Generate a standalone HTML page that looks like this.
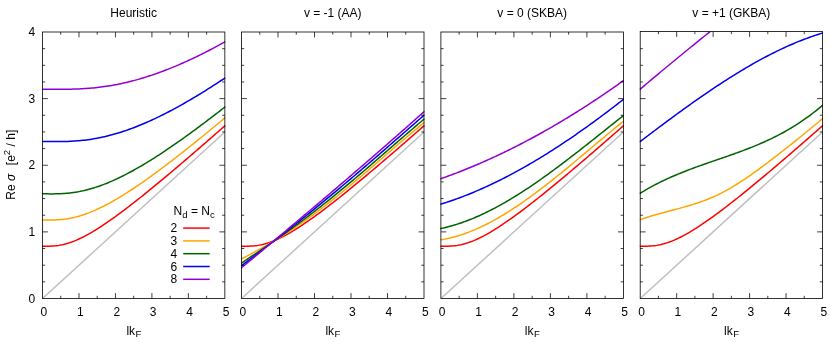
<!DOCTYPE html><html><head><meta charset="utf-8"><title>chart</title><style>html,body{margin:0;padding:0;background:#fff}svg{display:block}text{font-family:"Liberation Sans",sans-serif;fill:#000}svg{will-change:transform}</style></head><body>
<svg width="830" height="342" viewBox="0 0 830 342">
<rect width="830" height="342" fill="#fff"/>
<defs>
<clipPath id="c0"><rect x="41.70" y="32.00" width="183.95" height="266.50"/></clipPath>
<clipPath id="c1"><rect x="240.70" y="32.00" width="184.10" height="266.50"/></clipPath>
<clipPath id="c2"><rect x="440.10" y="32.00" width="184.10" height="266.50"/></clipPath>
<clipPath id="c3"><rect x="639.40" y="31.50" width="183.90" height="267.00"/></clipPath>
</defs>
<g clip-path="url(#c0)" fill="none" stroke-width="1.50" stroke-linejoin="round" stroke-linecap="round">
<path d="M42.50 298.50 L224.85 131.94" stroke="#c0c0c0"/>
<path d="M42.50 246.17 L44.32 246.18 L46.15 246.19 L47.97 246.19 L49.79 246.17 L51.62 246.10 L53.44 246.00 L55.26 245.85 L57.09 245.64 L58.91 245.38 L60.73 245.06 L62.56 244.69 L64.38 244.26 L66.21 243.78 L68.03 243.24 L69.85 242.65 L71.68 242.02 L73.50 241.33 L75.32 240.60 L77.15 239.82 L78.97 239.00 L80.79 238.15 L82.62 237.25 L84.44 236.32 L86.26 235.36 L88.09 234.36 L89.91 233.34 L91.73 232.28 L93.56 231.20 L95.38 230.09 L97.20 228.96 L99.03 227.80 L100.85 226.63 L102.68 225.43 L104.50 224.21 L106.32 222.98 L108.15 221.73 L109.97 220.46 L111.79 219.17 L113.62 217.87 L115.44 216.56 L117.26 215.23 L119.09 213.89 L120.91 212.54 L122.73 211.18 L124.56 209.80 L126.38 208.42 L128.20 207.02 L130.03 205.62 L131.85 204.21 L133.68 202.78 L135.50 201.35 L137.32 199.92 L139.15 198.47 L140.97 197.02 L142.79 195.56 L144.62 194.09 L146.44 192.62 L148.26 191.14 L150.09 189.66 L151.91 188.17 L153.73 186.68 L155.56 185.18 L157.38 183.67 L159.20 182.16 L161.03 180.65 L162.85 179.13 L164.67 177.61 L166.50 176.08 L168.32 174.56 L170.15 173.02 L171.97 171.49 L173.79 169.95 L175.62 168.40 L177.44 166.86 L179.26 165.31 L181.09 163.75 L182.91 162.20 L184.73 160.64 L186.56 159.08 L188.38 157.52 L190.20 155.95 L192.03 154.38 L193.85 152.81 L195.67 151.24 L197.50 149.66 L199.32 148.09 L201.14 146.51 L202.97 144.93 L204.79 143.35 L206.61 141.76 L208.44 140.17 L210.26 138.59 L212.09 137.00 L213.91 135.41 L215.73 133.81 L217.56 132.22 L219.38 130.62 L221.20 129.03 L223.03 127.43 L224.85 125.83" stroke="#ff0000"/>
<path d="M42.50 220.01 L44.32 220.02 L46.15 220.03 L47.97 220.04 L49.79 220.04 L51.62 220.03 L53.44 220.00 L55.26 219.94 L57.09 219.86 L58.91 219.75 L60.73 219.60 L62.56 219.42 L64.38 219.21 L66.21 218.96 L68.03 218.67 L69.85 218.34 L71.68 217.98 L73.50 217.58 L75.32 217.14 L77.15 216.67 L78.97 216.16 L80.79 215.61 L82.62 215.03 L84.44 214.42 L86.26 213.77 L88.09 213.10 L89.91 212.39 L91.73 211.65 L93.56 210.88 L95.38 210.08 L97.20 209.26 L99.03 208.41 L100.85 207.53 L102.68 206.63 L104.50 205.71 L106.32 204.76 L108.15 203.79 L109.97 202.80 L111.79 201.79 L113.62 200.75 L115.44 199.70 L117.26 198.64 L119.09 197.55 L120.91 196.44 L122.73 195.32 L124.56 194.19 L126.38 193.04 L128.20 191.87 L130.03 190.69 L131.85 189.50 L133.68 188.29 L135.50 187.07 L137.32 185.84 L139.15 184.59 L140.97 183.34 L142.79 182.07 L144.62 180.80 L146.44 179.51 L148.26 178.21 L150.09 176.90 L151.91 175.59 L153.73 174.26 L155.56 172.93 L157.38 171.59 L159.20 170.24 L161.03 168.88 L162.85 167.51 L164.67 166.14 L166.50 164.76 L168.32 163.38 L170.15 161.98 L171.97 160.58 L173.79 159.18 L175.62 157.77 L177.44 156.35 L179.26 154.93 L181.09 153.50 L182.91 152.06 L184.73 150.62 L186.56 149.18 L188.38 147.73 L190.20 146.28 L192.03 144.82 L193.85 143.36 L195.67 141.89 L197.50 140.42 L199.32 138.94 L201.14 137.46 L202.97 135.98 L204.79 134.50 L206.61 133.01 L208.44 131.51 L210.26 130.02 L212.09 128.51 L213.91 127.01 L215.73 125.50 L217.56 124.00 L219.38 122.48 L221.20 120.97 L223.03 119.45 L224.85 117.93" stroke="#ffa500"/>
<path d="M42.50 193.85 L44.32 193.85 L46.15 193.86 L47.97 193.87 L49.79 193.89 L51.62 193.89 L53.44 193.88 L55.26 193.87 L57.09 193.83 L58.91 193.78 L60.73 193.71 L62.56 193.61 L64.38 193.50 L66.21 193.36 L68.03 193.19 L69.85 193.00 L71.68 192.78 L73.50 192.53 L75.32 192.26 L77.15 191.96 L78.97 191.63 L80.79 191.27 L82.62 190.88 L84.44 190.47 L86.26 190.02 L88.09 189.56 L89.91 189.06 L91.73 188.54 L93.56 187.99 L95.38 187.41 L97.20 186.81 L99.03 186.18 L100.85 185.53 L102.68 184.86 L104.50 184.16 L106.32 183.44 L108.15 182.70 L109.97 181.93 L111.79 181.14 L113.62 180.34 L115.44 179.51 L117.26 178.66 L119.09 177.80 L120.91 176.91 L122.73 176.01 L124.56 175.08 L126.38 174.15 L128.20 173.19 L130.03 172.22 L131.85 171.23 L133.68 170.23 L135.50 169.21 L137.32 168.17 L139.15 167.12 L140.97 166.06 L142.79 164.99 L144.62 163.90 L146.44 162.80 L148.26 161.68 L150.09 160.56 L151.91 159.42 L153.73 158.27 L155.56 157.11 L157.38 155.94 L159.20 154.76 L161.03 153.56 L162.85 152.36 L164.67 151.15 L166.50 149.93 L168.32 148.70 L170.15 147.46 L171.97 146.21 L173.79 144.95 L175.62 143.69 L177.44 142.41 L179.26 141.13 L181.09 139.84 L182.91 138.55 L184.73 137.25 L186.56 135.94 L188.38 134.62 L190.20 133.29 L192.03 131.96 L193.85 130.63 L195.67 129.28 L197.50 127.93 L199.32 126.58 L201.14 125.22 L202.97 123.85 L204.79 122.48 L206.61 121.10 L208.44 119.72 L210.26 118.33 L212.09 116.94 L213.91 115.55 L215.73 114.14 L217.56 112.74 L219.38 111.33 L221.20 109.91 L223.03 108.49 L224.85 107.07" stroke="#006400"/>
<path d="M42.50 141.52 L44.32 141.52 L46.15 141.53 L47.97 141.54 L49.79 141.56 L51.62 141.57 L53.44 141.58 L55.26 141.58 L57.09 141.58 L58.91 141.58 L60.73 141.56 L62.56 141.53 L64.38 141.50 L66.21 141.45 L68.03 141.39 L69.85 141.31 L71.68 141.22 L73.50 141.12 L75.32 141.00 L77.15 140.86 L78.97 140.71 L80.79 140.54 L82.62 140.35 L84.44 140.14 L86.26 139.92 L88.09 139.68 L89.91 139.42 L91.73 139.14 L93.56 138.84 L95.38 138.52 L97.20 138.19 L99.03 137.84 L100.85 137.46 L102.68 137.07 L104.50 136.66 L106.32 136.23 L108.15 135.79 L109.97 135.32 L111.79 134.84 L113.62 134.34 L115.44 133.82 L117.26 133.28 L119.09 132.73 L120.91 132.16 L122.73 131.57 L124.56 130.96 L126.38 130.34 L128.20 129.70 L130.03 129.05 L131.85 128.38 L133.68 127.69 L135.50 126.99 L137.32 126.27 L139.15 125.54 L140.97 124.79 L142.79 124.03 L144.62 123.26 L146.44 122.47 L148.26 121.66 L150.09 120.85 L151.91 120.01 L153.73 119.17 L155.56 118.31 L157.38 117.44 L159.20 116.56 L161.03 115.67 L162.85 114.76 L164.67 113.84 L166.50 112.91 L168.32 111.97 L170.15 111.02 L171.97 110.05 L173.79 109.08 L175.62 108.09 L177.44 107.09 L179.26 106.09 L181.09 105.07 L182.91 104.04 L184.73 103.01 L186.56 101.96 L188.38 100.91 L190.20 99.84 L192.03 98.77 L193.85 97.69 L195.67 96.60 L197.50 95.50 L199.32 94.39 L201.14 93.27 L202.97 92.15 L204.79 91.02 L206.61 89.88 L208.44 88.73 L210.26 87.58 L212.09 86.41 L213.91 85.24 L215.73 84.07 L217.56 82.88 L219.38 81.69 L221.20 80.50 L223.03 79.29 L224.85 78.08" stroke="#0000ee"/>
<path d="M42.50 89.19 L44.32 89.19 L46.15 89.20 L47.97 89.21 L49.79 89.22 L51.62 89.24 L53.44 89.25 L55.26 89.26 L57.09 89.27 L58.91 89.28 L60.73 89.28 L62.56 89.28 L64.38 89.27 L66.21 89.25 L68.03 89.23 L69.85 89.20 L71.68 89.16 L73.50 89.12 L75.32 89.06 L77.15 88.99 L78.97 88.92 L80.79 88.83 L82.62 88.73 L84.44 88.62 L86.26 88.50 L88.09 88.36 L89.91 88.21 L91.73 88.06 L93.56 87.88 L95.38 87.70 L97.20 87.50 L99.03 87.29 L100.85 87.06 L102.68 86.82 L104.50 86.57 L106.32 86.30 L108.15 86.02 L109.97 85.72 L111.79 85.41 L113.62 85.09 L115.44 84.75 L117.26 84.40 L119.09 84.04 L120.91 83.66 L122.73 83.26 L124.56 82.85 L126.38 82.43 L128.20 82.00 L130.03 81.55 L131.85 81.09 L133.68 80.61 L135.50 80.12 L137.32 79.62 L139.15 79.10 L140.97 78.57 L142.79 78.03 L144.62 77.47 L146.44 76.90 L148.26 76.32 L150.09 75.72 L151.91 75.12 L153.73 74.50 L155.56 73.87 L157.38 73.22 L159.20 72.56 L161.03 71.90 L162.85 71.22 L164.67 70.52 L166.50 69.82 L168.32 69.10 L170.15 68.38 L171.97 67.64 L173.79 66.89 L175.62 66.13 L177.44 65.36 L179.26 64.58 L181.09 63.79 L182.91 62.99 L184.73 62.17 L186.56 61.35 L188.38 60.52 L190.20 59.68 L192.03 58.82 L193.85 57.96 L195.67 57.09 L197.50 56.21 L199.32 55.32 L201.14 54.42 L202.97 53.51 L204.79 52.59 L206.61 51.67 L208.44 50.73 L210.26 49.79 L212.09 48.84 L213.91 47.88 L215.73 46.91 L217.56 45.93 L219.38 44.95 L221.20 43.96 L223.03 42.96 L224.85 41.95" stroke="#9400d3"/>
</g>
<path d="M60.73 298.50 v-2.70 M60.73 32.00 v2.70 M78.97 298.50 v-5.40 M78.97 32.00 v5.40 M97.20 298.50 v-2.70 M97.20 32.00 v2.70 M115.44 298.50 v-5.40 M115.44 32.00 v5.40 M133.68 298.50 v-2.70 M133.68 32.00 v2.70 M151.91 298.50 v-5.40 M151.91 32.00 v5.40 M170.14 298.50 v-2.70 M170.14 32.00 v2.70 M188.38 298.50 v-5.40 M188.38 32.00 v5.40 M206.62 298.50 v-2.70 M206.62 32.00 v2.70 M42.50 281.84 h2.70 M224.85 281.84 h-2.70 M42.50 265.19 h2.70 M224.85 265.19 h-2.70 M42.50 248.53 h2.70 M224.85 248.53 h-2.70 M42.50 231.88 h5.40 M224.85 231.88 h-5.40 M42.50 215.22 h2.70 M224.85 215.22 h-2.70 M42.50 198.56 h2.70 M224.85 198.56 h-2.70 M42.50 181.91 h2.70 M224.85 181.91 h-2.70 M42.50 165.25 h5.40 M224.85 165.25 h-5.40 M42.50 148.59 h2.70 M224.85 148.59 h-2.70 M42.50 131.94 h2.70 M224.85 131.94 h-2.70 M42.50 115.28 h2.70 M224.85 115.28 h-2.70 M42.50 98.62 h5.40 M224.85 98.62 h-5.40 M42.50 81.97 h2.70 M224.85 81.97 h-2.70 M42.50 65.31 h2.70 M224.85 65.31 h-2.70 M42.50 48.66 h2.70 M224.85 48.66 h-2.70" stroke="#000" stroke-width="0.75" fill="none"/>
<rect x="42.50" y="32.00" width="182.35" height="266.50" fill="none" stroke="#000" stroke-width="0.8"/>
<text x="43.80" y="315.8" font-size="12" text-anchor="middle">0</text>
<text x="80.27" y="315.8" font-size="12" text-anchor="middle">1</text>
<text x="116.74" y="315.8" font-size="12" text-anchor="middle">2</text>
<text x="153.21" y="315.8" font-size="12" text-anchor="middle">3</text>
<text x="189.68" y="315.8" font-size="12" text-anchor="middle">4</text>
<text x="226.15" y="315.8" font-size="12" text-anchor="middle">5</text>
<text x="133.68" y="16.6" font-size="12" text-anchor="middle">Heuristic</text>
<text x="126.38" y="334.5" font-size="12">lk<tspan font-size="9.6" dy="2.5" dx="0.5">F</tspan></text>
<g clip-path="url(#c1)" fill="none" stroke-width="1.50" stroke-linejoin="round" stroke-linecap="round">
<path d="M241.50 298.50 L424.00 131.94" stroke="#c0c0c0"/>
<path d="M241.50 246.17 L243.32 246.18 L245.15 246.19 L246.97 246.19 L248.80 246.17 L250.62 246.10 L252.45 246.00 L254.28 245.85 L256.10 245.64 L257.93 245.38 L259.75 245.06 L261.57 244.69 L263.40 244.26 L265.23 243.78 L267.05 243.24 L268.88 242.65 L270.70 242.02 L272.52 241.33 L274.35 240.60 L276.18 239.82 L278.00 239.00 L279.82 238.15 L281.65 237.25 L283.48 236.32 L285.30 235.36 L287.12 234.36 L288.95 233.34 L290.77 232.28 L292.60 231.20 L294.43 230.09 L296.25 228.96 L298.07 227.80 L299.90 226.63 L301.73 225.43 L303.55 224.21 L305.38 222.98 L307.20 221.73 L309.02 220.46 L310.85 219.17 L312.68 217.87 L314.50 216.56 L316.33 215.23 L318.15 213.89 L319.98 212.54 L321.80 211.18 L323.62 209.80 L325.45 208.42 L327.27 207.02 L329.10 205.62 L330.93 204.21 L332.75 202.78 L334.58 201.35 L336.40 199.92 L338.23 198.47 L340.05 197.02 L341.88 195.56 L343.70 194.09 L345.52 192.62 L347.35 191.14 L349.18 189.66 L351.00 188.17 L352.82 186.68 L354.65 185.18 L356.48 183.67 L358.30 182.16 L360.12 180.65 L361.95 179.13 L363.77 177.61 L365.60 176.08 L367.43 174.56 L369.25 173.02 L371.07 171.49 L372.90 169.95 L374.73 168.40 L376.55 166.86 L378.38 165.31 L380.20 163.75 L382.02 162.20 L383.85 160.64 L385.68 159.08 L387.50 157.52 L389.32 155.95 L391.15 154.38 L392.98 152.81 L394.80 151.24 L396.62 149.66 L398.45 148.09 L400.28 146.51 L402.10 144.93 L403.93 143.35 L405.75 141.76 L407.57 140.17 L409.40 138.59 L411.23 137.00 L413.05 135.41 L414.88 133.81 L416.70 132.22 L418.53 130.62 L420.35 129.03 L422.18 127.43 L424.00 125.83" stroke="#ff0000"/>
<path d="M241.50 258.98 L243.32 258.03 L245.15 257.08 L246.97 256.13 L248.80 255.16 L250.62 254.19 L252.45 253.20 L254.28 252.21 L256.10 251.21 L257.93 250.21 L259.75 249.19 L261.57 248.16 L263.40 247.13 L265.23 246.09 L267.05 245.03 L268.88 243.97 L270.70 242.89 L272.52 241.81 L274.35 240.71 L276.18 239.61 L278.00 238.49 L279.82 237.36 L281.65 236.22 L283.48 235.07 L285.30 233.91 L287.12 232.74 L288.95 231.55 L290.77 230.36 L292.60 229.15 L294.43 227.93 L296.25 226.69 L298.07 225.44 L299.90 224.18 L301.73 222.91 L303.55 221.63 L305.38 220.33 L307.20 219.03 L309.02 217.71 L310.85 216.38 L312.68 215.04 L314.50 213.69 L316.33 212.33 L318.15 210.95 L319.98 209.57 L321.80 208.18 L323.62 206.78 L325.45 205.37 L327.27 203.95 L329.10 202.52 L330.93 201.08 L332.75 199.64 L334.58 198.18 L336.40 196.72 L338.23 195.25 L340.05 193.77 L341.88 192.29 L343.70 190.79 L345.52 189.29 L347.35 187.79 L349.18 186.27 L351.00 184.75 L352.82 183.23 L354.65 181.70 L356.48 180.16 L358.30 178.62 L360.12 177.07 L361.95 175.51 L363.77 173.96 L365.60 172.39 L367.43 170.83 L369.25 169.26 L371.07 167.68 L372.90 166.11 L374.73 164.53 L376.55 162.95 L378.38 161.37 L380.20 159.79 L382.02 158.21 L383.85 156.63 L385.68 155.05 L387.50 153.47 L389.32 151.89 L391.15 150.31 L392.98 148.74 L394.80 147.16 L396.62 145.59 L398.45 144.03 L400.28 142.47 L402.10 140.91 L403.93 139.35 L405.75 137.80 L407.57 136.26 L409.40 134.72 L411.23 133.19 L413.05 131.67 L414.88 130.15 L416.70 128.64 L418.53 127.14 L420.35 125.65 L422.18 124.16 L424.00 122.69" stroke="#ffa500"/>
<path d="M241.50 263.06 L243.32 261.85 L245.15 260.63 L246.97 259.41 L248.80 258.19 L250.62 256.97 L252.45 255.74 L254.28 254.52 L256.10 253.29 L257.93 252.06 L259.75 250.83 L261.57 249.59 L263.40 248.35 L265.23 247.10 L267.05 245.86 L268.88 244.60 L270.70 243.35 L272.52 242.09 L274.35 240.82 L276.18 239.55 L278.00 238.27 L279.82 236.99 L281.65 235.70 L283.48 234.41 L285.30 233.11 L287.12 231.80 L288.95 230.49 L290.77 229.17 L292.60 227.84 L294.43 226.51 L296.25 225.17 L298.07 223.82 L299.90 222.46 L301.73 221.10 L303.55 219.73 L305.38 218.35 L307.20 216.96 L309.02 215.57 L310.85 214.17 L312.68 212.77 L314.50 211.36 L316.33 209.94 L318.15 208.51 L319.98 207.08 L321.80 205.65 L323.62 204.20 L325.45 202.75 L327.27 201.29 L329.10 199.83 L330.93 198.36 L332.75 196.89 L334.58 195.41 L336.40 193.93 L338.23 192.43 L340.05 190.94 L341.88 189.44 L343.70 187.93 L345.52 186.41 L347.35 184.90 L349.18 183.37 L351.00 181.84 L352.82 180.31 L354.65 178.77 L356.48 177.23 L358.30 175.68 L360.12 174.13 L361.95 172.57 L363.77 171.01 L365.60 169.45 L367.43 167.88 L369.25 166.31 L371.07 164.74 L372.90 163.16 L374.73 161.58 L376.55 160.00 L378.38 158.42 L380.20 156.84 L382.02 155.26 L383.85 153.67 L385.68 152.09 L387.50 150.50 L389.32 148.92 L391.15 147.33 L392.98 145.75 L394.80 144.16 L396.62 142.58 L398.45 141.00 L400.28 139.42 L402.10 137.85 L403.93 136.27 L405.75 134.70 L407.57 133.13 L409.40 131.57 L411.23 130.00 L413.05 128.45 L414.88 126.89 L416.70 125.34 L418.53 123.80 L420.35 122.26 L422.18 120.72 L424.00 119.19" stroke="#006400"/>
<path d="M241.50 265.65 L243.32 264.29 L245.15 262.93 L246.97 261.56 L248.80 260.20 L250.62 258.82 L252.45 257.45 L254.28 256.07 L256.10 254.69 L257.93 253.31 L259.75 251.92 L261.57 250.53 L263.40 249.14 L265.23 247.74 L267.05 246.34 L268.88 244.94 L270.70 243.53 L272.52 242.13 L274.35 240.71 L276.18 239.30 L278.00 237.88 L279.82 236.46 L281.65 235.04 L283.48 233.61 L285.30 232.18 L287.12 230.75 L288.95 229.31 L290.77 227.87 L292.60 226.43 L294.43 224.98 L296.25 223.53 L298.07 222.08 L299.90 220.63 L301.73 219.17 L303.55 217.71 L305.38 216.24 L307.20 214.78 L309.02 213.30 L310.85 211.83 L312.68 210.35 L314.50 208.87 L316.33 207.39 L318.15 205.90 L319.98 204.41 L321.80 202.92 L323.62 201.42 L325.45 199.92 L327.27 198.42 L329.10 196.92 L330.93 195.41 L332.75 193.89 L334.58 192.38 L336.40 190.86 L338.23 189.34 L340.05 187.81 L341.88 186.28 L343.70 184.75 L345.52 183.22 L347.35 181.68 L349.18 180.14 L351.00 178.59 L352.82 177.04 L354.65 175.49 L356.48 173.94 L358.30 172.38 L360.12 170.82 L361.95 169.26 L363.77 167.69 L365.60 166.12 L367.43 164.55 L369.25 162.98 L371.07 161.40 L372.90 159.83 L374.73 158.25 L376.55 156.67 L378.38 155.08 L380.20 153.50 L382.02 151.91 L383.85 150.33 L385.68 148.74 L387.50 147.15 L389.32 145.56 L391.15 143.96 L392.98 142.37 L394.80 140.78 L396.62 139.18 L398.45 137.59 L400.28 135.99 L402.10 134.40 L403.93 132.80 L405.75 131.21 L407.57 129.61 L409.40 128.02 L411.23 126.42 L413.05 124.83 L414.88 123.23 L416.70 121.64 L418.53 120.05 L420.35 118.46 L422.18 116.87 L424.00 115.28" stroke="#0000ee"/>
<path d="M241.50 267.75 L243.32 266.24 L245.15 264.72 L246.97 263.20 L248.80 261.69 L250.62 260.17 L252.45 258.65 L254.28 257.13 L256.10 255.61 L257.93 254.10 L259.75 252.58 L261.57 251.06 L263.40 249.53 L265.23 248.01 L267.05 246.49 L268.88 244.97 L270.70 243.44 L272.52 241.92 L274.35 240.40 L276.18 238.87 L278.00 237.34 L279.82 235.82 L281.65 234.29 L283.48 232.76 L285.30 231.23 L287.12 229.70 L288.95 228.17 L290.77 226.64 L292.60 225.11 L294.43 223.57 L296.25 222.04 L298.07 220.51 L299.90 218.97 L301.73 217.43 L303.55 215.90 L305.38 214.36 L307.20 212.82 L309.02 211.28 L310.85 209.74 L312.68 208.20 L314.50 206.65 L316.33 205.11 L318.15 203.56 L319.98 202.02 L321.80 200.47 L323.62 198.92 L325.45 197.37 L327.27 195.82 L329.10 194.27 L330.93 192.72 L332.75 191.17 L334.58 189.61 L336.40 188.06 L338.23 186.50 L340.05 184.94 L341.88 183.38 L343.70 181.82 L345.52 180.26 L347.35 178.70 L349.18 177.13 L351.00 175.57 L352.82 174.00 L354.65 172.43 L356.48 170.86 L358.30 169.29 L360.12 167.72 L361.95 166.15 L363.77 164.57 L365.60 163.00 L367.43 161.42 L369.25 159.84 L371.07 158.26 L372.90 156.68 L374.73 155.10 L376.55 153.51 L378.38 151.93 L380.20 150.34 L382.02 148.75 L383.85 147.16 L385.68 145.57 L387.50 143.98 L389.32 142.38 L391.15 140.78 L392.98 139.19 L394.80 137.59 L396.62 135.99 L398.45 134.38 L400.28 132.78 L402.10 131.17 L403.93 129.57 L405.75 127.96 L407.57 126.35 L409.40 124.73 L411.23 123.12 L413.05 121.50 L414.88 119.88 L416.70 118.26 L418.53 116.64 L420.35 115.02 L422.18 113.40 L424.00 111.77" stroke="#9400d3"/>
</g>
<path d="M259.75 298.50 v-2.70 M259.75 32.00 v2.70 M278.00 298.50 v-5.40 M278.00 32.00 v5.40 M296.25 298.50 v-2.70 M296.25 32.00 v2.70 M314.50 298.50 v-5.40 M314.50 32.00 v5.40 M332.75 298.50 v-2.70 M332.75 32.00 v2.70 M351.00 298.50 v-5.40 M351.00 32.00 v5.40 M369.25 298.50 v-2.70 M369.25 32.00 v2.70 M387.50 298.50 v-5.40 M387.50 32.00 v5.40 M405.75 298.50 v-2.70 M405.75 32.00 v2.70 M241.50 281.84 h2.70 M424.00 281.84 h-2.70 M241.50 265.19 h2.70 M424.00 265.19 h-2.70 M241.50 248.53 h2.70 M424.00 248.53 h-2.70 M241.50 231.88 h5.40 M424.00 231.88 h-5.40 M241.50 215.22 h2.70 M424.00 215.22 h-2.70 M241.50 198.56 h2.70 M424.00 198.56 h-2.70 M241.50 181.91 h2.70 M424.00 181.91 h-2.70 M241.50 165.25 h5.40 M424.00 165.25 h-5.40 M241.50 148.59 h2.70 M424.00 148.59 h-2.70 M241.50 131.94 h2.70 M424.00 131.94 h-2.70 M241.50 115.28 h2.70 M424.00 115.28 h-2.70 M241.50 98.62 h5.40 M424.00 98.62 h-5.40 M241.50 81.97 h2.70 M424.00 81.97 h-2.70 M241.50 65.31 h2.70 M424.00 65.31 h-2.70 M241.50 48.66 h2.70 M424.00 48.66 h-2.70" stroke="#000" stroke-width="0.75" fill="none"/>
<rect x="241.50" y="32.00" width="182.50" height="266.50" fill="none" stroke="#000" stroke-width="0.8"/>
<text x="242.80" y="315.8" font-size="12" text-anchor="middle">0</text>
<text x="279.30" y="315.8" font-size="12" text-anchor="middle">1</text>
<text x="315.80" y="315.8" font-size="12" text-anchor="middle">2</text>
<text x="352.30" y="315.8" font-size="12" text-anchor="middle">3</text>
<text x="388.80" y="315.8" font-size="12" text-anchor="middle">4</text>
<text x="425.30" y="315.8" font-size="12" text-anchor="middle">5</text>
<text x="332.75" y="16.6" font-size="12" text-anchor="middle">v = -1 (AA)</text>
<text x="325.45" y="334.5" font-size="12">lk<tspan font-size="9.6" dy="2.5" dx="0.5">F</tspan></text>
<g clip-path="url(#c2)" fill="none" stroke-width="1.50" stroke-linejoin="round" stroke-linecap="round">
<path d="M440.90 298.50 L623.40 131.94" stroke="#c0c0c0"/>
<path d="M440.90 246.17 L442.72 246.18 L444.55 246.19 L446.38 246.19 L448.20 246.17 L450.02 246.10 L451.85 246.00 L453.67 245.85 L455.50 245.64 L457.32 245.38 L459.15 245.06 L460.97 244.69 L462.80 244.26 L464.62 243.78 L466.45 243.24 L468.27 242.65 L470.10 242.02 L471.92 241.33 L473.75 240.60 L475.57 239.82 L477.40 239.00 L479.22 238.15 L481.05 237.25 L482.88 236.32 L484.70 235.36 L486.52 234.36 L488.35 233.34 L490.17 232.28 L492.00 231.20 L493.82 230.09 L495.65 228.96 L497.47 227.80 L499.30 226.63 L501.12 225.43 L502.95 224.21 L504.77 222.98 L506.60 221.73 L508.42 220.46 L510.25 219.17 L512.08 217.87 L513.90 216.56 L515.73 215.23 L517.55 213.89 L519.38 212.54 L521.20 211.18 L523.02 209.80 L524.85 208.42 L526.67 207.02 L528.50 205.62 L530.33 204.21 L532.15 202.78 L533.98 201.35 L535.80 199.92 L537.62 198.47 L539.45 197.02 L541.27 195.56 L543.10 194.09 L544.92 192.62 L546.75 191.14 L548.57 189.66 L550.40 188.17 L552.23 186.68 L554.05 185.18 L555.88 183.67 L557.70 182.16 L559.52 180.65 L561.35 179.13 L563.17 177.61 L565.00 176.08 L566.82 174.56 L568.65 173.02 L570.47 171.49 L572.30 169.95 L574.12 168.40 L575.95 166.86 L577.77 165.31 L579.60 163.75 L581.42 162.20 L583.25 160.64 L585.08 159.08 L586.90 157.52 L588.72 155.95 L590.55 154.38 L592.38 152.81 L594.20 151.24 L596.02 149.66 L597.85 148.09 L599.67 146.51 L601.50 144.93 L603.33 143.35 L605.15 141.76 L606.97 140.17 L608.80 138.59 L610.62 137.00 L612.45 135.41 L614.27 133.81 L616.10 132.22 L617.92 130.62 L619.75 129.03 L621.58 127.43 L623.40 125.83" stroke="#ff0000"/>
<path d="M440.90 239.74 L442.72 239.45 L444.55 239.12 L446.38 238.77 L448.20 238.38 L450.02 237.97 L451.85 237.53 L453.67 237.06 L455.50 236.56 L457.32 236.04 L459.15 235.49 L460.97 234.91 L462.80 234.30 L464.62 233.67 L466.45 233.02 L468.27 232.34 L470.10 231.63 L471.92 230.90 L473.75 230.15 L475.57 229.37 L477.40 228.57 L479.22 227.74 L481.05 226.90 L482.88 226.03 L484.70 225.14 L486.52 224.22 L488.35 223.29 L490.17 222.34 L492.00 221.36 L493.82 220.37 L495.65 219.35 L497.47 218.32 L499.30 217.26 L501.12 216.19 L502.95 215.10 L504.77 214.00 L506.60 212.87 L508.42 211.73 L510.25 210.57 L512.08 209.39 L513.90 208.20 L515.73 207.00 L517.55 205.77 L519.38 204.54 L521.20 203.28 L523.02 202.02 L524.85 200.74 L526.67 199.45 L528.50 198.14 L530.33 196.82 L532.15 195.49 L533.98 194.14 L535.80 192.79 L537.62 191.42 L539.45 190.05 L541.27 188.66 L543.10 187.26 L544.92 185.85 L546.75 184.43 L548.57 183.01 L550.40 181.57 L552.23 180.13 L554.05 178.68 L555.88 177.22 L557.70 175.75 L559.52 174.28 L561.35 172.80 L563.17 171.31 L565.00 169.82 L566.82 168.33 L568.65 166.82 L570.47 165.32 L572.30 163.81 L574.12 162.29 L575.95 160.77 L577.77 159.25 L579.60 157.72 L581.42 156.20 L583.25 154.67 L585.08 153.14 L586.90 151.60 L588.72 150.07 L590.55 148.54 L592.38 147.00 L594.20 145.47 L596.02 143.93 L597.85 142.40 L599.67 140.87 L601.50 139.34 L603.33 137.81 L605.15 136.28 L606.97 134.76 L608.80 133.24 L610.62 131.72 L612.45 130.21 L614.27 128.70 L616.10 127.19 L617.92 125.69 L619.75 124.19 L621.58 122.70 L623.40 121.22" stroke="#ffa500"/>
<path d="M440.90 228.51 L442.72 228.12 L444.55 227.70 L446.38 227.26 L448.20 226.80 L450.02 226.31 L451.85 225.81 L453.67 225.28 L455.50 224.73 L457.32 224.15 L459.15 223.56 L460.97 222.94 L462.80 222.31 L464.62 221.65 L466.45 220.98 L468.27 220.28 L470.10 219.56 L471.92 218.83 L473.75 218.07 L475.57 217.30 L477.40 216.50 L479.22 215.69 L481.05 214.86 L482.88 214.01 L484.70 213.15 L486.52 212.27 L488.35 211.37 L490.17 210.45 L492.00 209.52 L493.82 208.57 L495.65 207.60 L497.47 206.62 L499.30 205.62 L501.12 204.61 L502.95 203.58 L504.77 202.54 L506.60 201.48 L508.42 200.41 L510.25 199.33 L512.08 198.23 L513.90 197.11 L515.73 195.99 L517.55 194.85 L519.38 193.70 L521.20 192.53 L523.02 191.36 L524.85 190.17 L526.67 188.97 L528.50 187.76 L530.33 186.54 L532.15 185.31 L533.98 184.06 L535.80 182.81 L537.62 181.55 L539.45 180.27 L541.27 178.99 L543.10 177.70 L544.92 176.39 L546.75 175.08 L548.57 173.77 L550.40 172.44 L552.23 171.10 L554.05 169.76 L555.88 168.41 L557.70 167.05 L559.52 165.69 L561.35 164.32 L563.17 162.94 L565.00 161.56 L566.82 160.17 L568.65 158.77 L570.47 157.37 L572.30 155.97 L574.12 154.56 L575.95 153.14 L577.77 151.73 L579.60 150.30 L581.42 148.88 L583.25 147.45 L585.08 146.01 L586.90 144.58 L588.72 143.14 L590.55 141.69 L592.38 140.25 L594.20 138.80 L596.02 137.36 L597.85 135.91 L599.67 134.46 L601.50 133.01 L603.33 131.56 L605.15 130.10 L606.97 128.65 L608.80 127.20 L610.62 125.75 L612.45 124.30 L614.27 122.85 L616.10 121.40 L617.92 119.95 L619.75 118.51 L621.58 117.06 L623.40 115.62" stroke="#006400"/>
<path d="M440.90 204.14 L442.72 203.57 L444.55 202.99 L446.38 202.40 L448.20 201.80 L450.02 201.19 L451.85 200.56 L453.67 199.93 L455.50 199.28 L457.32 198.62 L459.15 197.95 L460.97 197.27 L462.80 196.58 L464.62 195.87 L466.45 195.16 L468.27 194.43 L470.10 193.70 L471.92 192.95 L473.75 192.19 L475.57 191.42 L477.40 190.64 L479.22 189.85 L481.05 189.05 L482.88 188.24 L484.70 187.42 L486.52 186.59 L488.35 185.75 L490.17 184.90 L492.00 184.03 L493.82 183.16 L495.65 182.28 L497.47 181.39 L499.30 180.49 L501.12 179.57 L502.95 178.65 L504.77 177.72 L506.60 176.78 L508.42 175.83 L510.25 174.87 L512.08 173.90 L513.90 172.92 L515.73 171.93 L517.55 170.94 L519.38 169.93 L521.20 168.92 L523.02 167.89 L524.85 166.86 L526.67 165.81 L528.50 164.76 L530.33 163.70 L532.15 162.63 L533.98 161.56 L535.80 160.47 L537.62 159.37 L539.45 158.27 L541.27 157.16 L543.10 156.04 L544.92 154.91 L546.75 153.77 L548.57 152.63 L550.40 151.47 L552.23 150.31 L554.05 149.14 L555.88 147.97 L557.70 146.78 L559.52 145.59 L561.35 144.39 L563.17 143.18 L565.00 141.96 L566.82 140.74 L568.65 139.51 L570.47 138.27 L572.30 137.02 L574.12 135.77 L575.95 134.51 L577.77 133.24 L579.60 131.97 L581.42 130.69 L583.25 129.40 L585.08 128.10 L586.90 126.80 L588.72 125.49 L590.55 124.17 L592.38 122.85 L594.20 121.52 L596.02 120.18 L597.85 118.84 L599.67 117.49 L601.50 116.14 L603.33 114.77 L605.15 113.41 L606.97 112.03 L608.80 110.65 L610.62 109.27 L612.45 107.87 L614.27 106.47 L616.10 105.07 L617.92 103.66 L619.75 102.24 L621.58 100.82 L623.40 99.40" stroke="#0000ee"/>
<path d="M440.90 178.68 L442.72 178.04 L444.55 177.39 L446.38 176.73 L448.20 176.06 L450.02 175.39 L451.85 174.71 L453.67 174.03 L455.50 173.33 L457.32 172.63 L459.15 171.93 L460.97 171.21 L462.80 170.49 L464.62 169.76 L466.45 169.03 L468.27 168.29 L470.10 167.54 L471.92 166.78 L473.75 166.02 L475.57 165.25 L477.40 164.47 L479.22 163.69 L481.05 162.90 L482.88 162.10 L484.70 161.30 L486.52 160.49 L488.35 159.67 L490.17 158.84 L492.00 158.01 L493.82 157.17 L495.65 156.33 L497.47 155.48 L499.30 154.62 L501.12 153.75 L502.95 152.88 L504.77 152.00 L506.60 151.12 L508.42 150.22 L510.25 149.32 L512.08 148.42 L513.90 147.50 L515.73 146.59 L517.55 145.66 L519.38 144.73 L521.20 143.79 L523.02 142.84 L524.85 141.89 L526.67 140.93 L528.50 139.96 L530.33 138.98 L532.15 138.00 L533.98 137.02 L535.80 136.02 L537.62 135.02 L539.45 134.02 L541.27 133.00 L543.10 131.98 L544.92 130.96 L546.75 129.92 L548.57 128.88 L550.40 127.84 L552.23 126.78 L554.05 125.72 L555.88 124.66 L557.70 123.58 L559.52 122.50 L561.35 121.42 L563.17 120.32 L565.00 119.23 L566.82 118.12 L568.65 117.01 L570.47 115.89 L572.30 114.76 L574.12 113.63 L575.95 112.49 L577.77 111.35 L579.60 110.19 L581.42 109.04 L583.25 107.87 L585.08 106.70 L586.90 105.52 L588.72 104.34 L590.55 103.15 L592.38 101.95 L594.20 100.75 L596.02 99.54 L597.85 98.32 L599.67 97.10 L601.50 95.87 L603.33 94.63 L605.15 93.39 L606.97 92.14 L608.80 90.89 L610.62 89.63 L612.45 88.36 L614.27 87.09 L616.10 85.81 L617.92 84.52 L619.75 83.23 L621.58 81.93 L623.40 80.62" stroke="#9400d3"/>
</g>
<path d="M459.15 298.50 v-2.70 M459.15 32.00 v2.70 M477.40 298.50 v-5.40 M477.40 32.00 v5.40 M495.65 298.50 v-2.70 M495.65 32.00 v2.70 M513.90 298.50 v-5.40 M513.90 32.00 v5.40 M532.15 298.50 v-2.70 M532.15 32.00 v2.70 M550.40 298.50 v-5.40 M550.40 32.00 v5.40 M568.65 298.50 v-2.70 M568.65 32.00 v2.70 M586.90 298.50 v-5.40 M586.90 32.00 v5.40 M605.15 298.50 v-2.70 M605.15 32.00 v2.70 M440.90 281.84 h2.70 M623.40 281.84 h-2.70 M440.90 265.19 h2.70 M623.40 265.19 h-2.70 M440.90 248.53 h2.70 M623.40 248.53 h-2.70 M440.90 231.88 h5.40 M623.40 231.88 h-5.40 M440.90 215.22 h2.70 M623.40 215.22 h-2.70 M440.90 198.56 h2.70 M623.40 198.56 h-2.70 M440.90 181.91 h2.70 M623.40 181.91 h-2.70 M440.90 165.25 h5.40 M623.40 165.25 h-5.40 M440.90 148.59 h2.70 M623.40 148.59 h-2.70 M440.90 131.94 h2.70 M623.40 131.94 h-2.70 M440.90 115.28 h2.70 M623.40 115.28 h-2.70 M440.90 98.62 h5.40 M623.40 98.62 h-5.40 M440.90 81.97 h2.70 M623.40 81.97 h-2.70 M440.90 65.31 h2.70 M623.40 65.31 h-2.70 M440.90 48.66 h2.70 M623.40 48.66 h-2.70" stroke="#000" stroke-width="0.75" fill="none"/>
<rect x="440.90" y="32.00" width="182.50" height="266.50" fill="none" stroke="#000" stroke-width="0.8"/>
<text x="442.20" y="315.8" font-size="12" text-anchor="middle">0</text>
<text x="478.70" y="315.8" font-size="12" text-anchor="middle">1</text>
<text x="515.20" y="315.8" font-size="12" text-anchor="middle">2</text>
<text x="551.70" y="315.8" font-size="12" text-anchor="middle">3</text>
<text x="588.20" y="315.8" font-size="12" text-anchor="middle">4</text>
<text x="624.70" y="315.8" font-size="12" text-anchor="middle">5</text>
<text x="532.15" y="16.6" font-size="12" text-anchor="middle">v = 0 (SKBA)</text>
<text x="524.85" y="334.5" font-size="12">lk<tspan font-size="9.6" dy="2.5" dx="0.5">F</tspan></text>
<g clip-path="url(#c3)" fill="none" stroke-width="1.50" stroke-linejoin="round" stroke-linecap="round">
<path d="M640.20 298.50 L822.50 131.94" stroke="#c0c0c0"/>
<path d="M640.20 246.17 L642.02 246.18 L643.85 246.19 L645.67 246.19 L647.49 246.17 L649.32 246.10 L651.14 246.00 L652.96 245.85 L654.78 245.64 L656.61 245.38 L658.43 245.06 L660.25 244.69 L662.08 244.26 L663.90 243.78 L665.72 243.24 L667.55 242.65 L669.37 242.02 L671.19 241.33 L673.01 240.60 L674.84 239.82 L676.66 239.00 L678.48 238.15 L680.31 237.25 L682.13 236.32 L683.95 235.36 L685.78 234.36 L687.60 233.34 L689.42 232.28 L691.24 231.20 L693.07 230.09 L694.89 228.96 L696.71 227.80 L698.54 226.63 L700.36 225.43 L702.18 224.21 L704.00 222.98 L705.83 221.73 L707.65 220.46 L709.47 219.17 L711.30 217.87 L713.12 216.56 L714.94 215.23 L716.77 213.89 L718.59 212.54 L720.41 211.18 L722.24 209.80 L724.06 208.42 L725.88 207.02 L727.70 205.62 L729.53 204.21 L731.35 202.78 L733.17 201.35 L735.00 199.92 L736.82 198.47 L738.64 197.02 L740.47 195.56 L742.29 194.09 L744.11 192.62 L745.93 191.14 L747.76 189.66 L749.58 188.17 L751.40 186.68 L753.23 185.18 L755.05 183.67 L756.87 182.16 L758.70 180.65 L760.52 179.13 L762.34 177.61 L764.16 176.08 L765.99 174.56 L767.81 173.02 L769.63 171.49 L771.46 169.95 L773.28 168.40 L775.10 166.86 L776.92 165.31 L778.75 163.75 L780.57 162.20 L782.39 160.64 L784.22 159.08 L786.04 157.52 L787.86 155.95 L789.69 154.38 L791.51 152.81 L793.33 151.24 L795.15 149.66 L796.98 148.09 L798.80 146.51 L800.62 144.93 L802.45 143.35 L804.27 141.76 L806.09 140.17 L807.92 138.59 L809.74 137.00 L811.56 135.41 L813.38 133.81 L815.21 132.22 L817.03 130.62 L818.85 129.03 L820.68 127.43 L822.50 125.83" stroke="#ff0000"/>
<path d="M640.20 219.61 L642.02 218.98 L643.85 218.37 L645.67 217.78 L647.49 217.20 L649.32 216.64 L651.14 216.09 L652.96 215.55 L654.78 215.02 L656.61 214.50 L658.43 213.99 L660.25 213.49 L662.08 212.99 L663.90 212.50 L665.72 212.01 L667.55 211.53 L669.37 211.05 L671.19 210.57 L673.01 210.08 L674.84 209.60 L676.66 209.11 L678.48 208.62 L680.31 208.12 L682.13 207.62 L683.95 207.11 L685.78 206.59 L687.60 206.06 L689.42 205.52 L691.24 204.97 L693.07 204.40 L694.89 203.83 L696.71 203.23 L698.54 202.62 L700.36 201.99 L702.18 201.34 L704.00 200.67 L705.83 199.98 L707.65 199.27 L709.47 198.53 L711.30 197.77 L713.12 196.98 L714.94 196.17 L716.77 195.33 L718.59 194.45 L720.41 193.55 L722.24 192.62 L724.06 191.66 L725.88 190.68 L727.70 189.67 L729.53 188.63 L731.35 187.57 L733.17 186.48 L735.00 185.37 L736.82 184.24 L738.64 183.09 L740.47 181.92 L742.29 180.73 L744.11 179.52 L745.93 178.29 L747.76 177.04 L749.58 175.78 L751.40 174.51 L753.23 173.22 L755.05 171.91 L756.87 170.60 L758.70 169.27 L760.52 167.93 L762.34 166.58 L764.16 165.23 L765.99 163.86 L767.81 162.49 L769.63 161.11 L771.46 159.72 L773.28 158.33 L775.10 156.93 L776.92 155.52 L778.75 154.11 L780.57 152.70 L782.39 151.27 L784.22 149.85 L786.04 148.41 L787.86 146.97 L789.69 145.53 L791.51 144.08 L793.33 142.62 L795.15 141.16 L796.98 139.69 L798.80 138.22 L800.62 136.74 L802.45 135.26 L804.27 133.77 L806.09 132.28 L807.92 130.78 L809.74 129.28 L811.56 127.78 L813.38 126.27 L815.21 124.75 L817.03 123.24 L818.85 121.71 L820.68 120.19 L822.50 118.65" stroke="#ffa500"/>
<path d="M640.20 193.25 L642.02 192.13 L643.85 191.04 L645.67 189.97 L647.49 188.92 L649.32 187.89 L651.14 186.89 L652.96 185.90 L654.78 184.94 L656.61 183.99 L658.43 183.06 L660.25 182.15 L662.08 181.26 L663.90 180.39 L665.72 179.53 L667.55 178.69 L669.37 177.86 L671.19 177.05 L673.01 176.25 L674.84 175.46 L676.66 174.69 L678.48 173.93 L680.31 173.19 L682.13 172.45 L683.95 171.73 L685.78 171.01 L687.60 170.31 L689.42 169.61 L691.24 168.92 L693.07 168.24 L694.89 167.57 L696.71 166.91 L698.54 166.25 L700.36 165.60 L702.18 164.95 L704.00 164.31 L705.83 163.67 L707.65 163.03 L709.47 162.40 L711.30 161.77 L713.12 161.14 L714.94 160.51 L716.77 159.88 L718.59 159.26 L720.41 158.63 L722.24 158.00 L724.06 157.37 L725.88 156.74 L727.70 156.10 L729.53 155.46 L731.35 154.82 L733.17 154.18 L735.00 153.52 L736.82 152.87 L738.64 152.20 L740.47 151.53 L742.29 150.86 L744.11 150.17 L745.93 149.48 L747.76 148.78 L749.58 148.06 L751.40 147.34 L753.23 146.61 L755.05 145.87 L756.87 145.11 L758.70 144.34 L760.52 143.56 L762.34 142.77 L764.16 141.96 L765.99 141.14 L767.81 140.30 L769.63 139.44 L771.46 138.57 L773.28 137.69 L775.10 136.78 L776.92 135.86 L778.75 134.92 L780.57 133.96 L782.39 132.98 L784.22 131.98 L786.04 130.96 L787.86 129.91 L789.69 128.85 L791.51 127.76 L793.33 126.65 L795.15 125.52 L796.98 124.36 L798.80 123.18 L800.62 121.97 L802.45 120.74 L804.27 119.48 L806.09 118.19 L807.92 116.88 L809.74 115.54 L811.56 114.16 L813.38 112.76 L815.21 111.33 L817.03 109.87 L818.85 108.38 L820.68 106.86 L822.50 105.30" stroke="#006400"/>
<path d="M640.20 141.53 L642.02 140.15 L643.85 138.76 L645.67 137.38 L647.49 136.00 L649.32 134.62 L651.14 133.25 L652.96 131.87 L654.78 130.50 L656.61 129.13 L658.43 127.76 L660.25 126.40 L662.08 125.04 L663.90 123.68 L665.72 122.32 L667.55 120.97 L669.37 119.62 L671.19 118.28 L673.01 116.93 L674.84 115.60 L676.66 114.26 L678.48 112.93 L680.31 111.61 L682.13 110.28 L683.95 108.97 L685.78 107.65 L687.60 106.35 L689.42 105.04 L691.24 103.75 L693.07 102.46 L694.89 101.17 L696.71 99.89 L698.54 98.61 L700.36 97.34 L702.18 96.08 L704.00 94.82 L705.83 93.57 L707.65 92.32 L709.47 91.09 L711.30 89.85 L713.12 88.63 L714.94 87.41 L716.77 86.20 L718.59 85.00 L720.41 83.80 L722.24 82.61 L724.06 81.43 L725.88 80.26 L727.70 79.09 L729.53 77.94 L731.35 76.79 L733.17 75.65 L735.00 74.52 L736.82 73.39 L738.64 72.28 L740.47 71.18 L742.29 70.08 L744.11 68.99 L745.93 67.92 L747.76 66.85 L749.58 65.79 L751.40 64.74 L753.23 63.70 L755.05 62.68 L756.87 61.66 L758.70 60.65 L760.52 59.66 L762.34 58.67 L764.16 57.69 L765.99 56.73 L767.81 55.78 L769.63 54.84 L771.46 53.91 L773.28 52.99 L775.10 52.08 L776.92 51.19 L778.75 50.30 L780.57 49.43 L782.39 48.57 L784.22 47.73 L786.04 46.89 L787.86 46.07 L789.69 45.27 L791.51 44.47 L793.33 43.69 L795.15 42.92 L796.98 42.17 L798.80 41.43 L800.62 40.70 L802.45 39.99 L804.27 39.29 L806.09 38.60 L807.92 37.93 L809.74 37.27 L811.56 36.63 L813.38 36.00 L815.21 35.39 L817.03 34.79 L818.85 34.21 L820.68 33.65 L822.50 33.09" stroke="#0000ee"/>
<path d="M640.20 89.18 L641.11 88.40 L642.02 87.63 L642.93 86.86 L643.85 86.08 L644.76 85.31 L645.67 84.54 L646.58 83.77 L647.49 83.00 L648.40 82.23 L649.32 81.46 L650.23 80.69 L651.14 79.92 L652.05 79.16 L652.96 78.39 L653.87 77.63 L654.78 76.86 L655.70 76.10 L656.61 75.33 L657.52 74.57 L658.43 73.81 L659.34 73.05 L660.25 72.29 L661.16 71.53 L662.08 70.77 L662.99 70.01 L663.90 69.25 L664.81 68.49 L665.72 67.74 L666.63 66.98 L667.55 66.23 L668.46 65.47 L669.37 64.72 L670.28 63.96 L671.19 63.21 L672.10 62.46 L673.01 61.71 L673.93 60.96 L674.84 60.21 L675.75 59.46 L676.66 58.71 L677.57 57.96 L678.48 57.21 L679.39 56.46 L680.31 55.71 L681.22 54.97 L682.13 54.22 L683.04 53.48 L683.95 52.73 L684.86 51.99 L685.78 51.24 L686.69 50.50 L687.60 49.76 L688.51 49.02 L689.42 48.28 L690.33 47.53 L691.24 46.79 L692.16 46.05 L693.07 45.31 L693.98 44.58 L694.89 43.84 L695.80 43.10 L696.71 42.36 L697.62 41.63 L698.54 40.89 L699.45 40.15 L700.36 39.42 L701.27 38.68 L702.18 37.95 L703.09 37.21 L704.00 36.48 L704.92 35.75 L705.83 35.01 L706.74 34.28 L707.65 33.55 L708.56 32.82 L709.47 32.09 L710.39 31.36 L711.30 30.63 L712.21 29.90 L713.12 29.17 L714.03 28.44 L714.94 27.71 L715.85 26.98 L716.77 26.26 L717.68 25.53 L718.59 24.80 L719.50 24.08 L720.41 23.35 L721.32 22.63 L722.24 21.90 L723.15 21.18 L724.06 20.45 L724.97 19.73 L725.88 19.00 L726.79 18.28 L727.70 17.56 L728.62 16.84 L729.53 16.11 L730.44 15.39 L731.35 14.67" stroke="#9400d3"/>
</g>
<path d="M658.43 298.50 v-2.70 M658.43 31.50 v2.70 M676.66 298.50 v-5.40 M676.66 31.50 v5.40 M694.89 298.50 v-2.70 M694.89 31.50 v2.70 M713.12 298.50 v-5.40 M713.12 31.50 v5.40 M731.35 298.50 v-2.70 M731.35 31.50 v2.70 M749.58 298.50 v-5.40 M749.58 31.50 v5.40 M767.81 298.50 v-2.70 M767.81 31.50 v2.70 M786.04 298.50 v-5.40 M786.04 31.50 v5.40 M804.27 298.50 v-2.70 M804.27 31.50 v2.70 M640.20 281.84 h2.70 M822.50 281.84 h-2.70 M640.20 265.19 h2.70 M822.50 265.19 h-2.70 M640.20 248.53 h2.70 M822.50 248.53 h-2.70 M640.20 231.88 h5.40 M822.50 231.88 h-5.40 M640.20 215.22 h2.70 M822.50 215.22 h-2.70 M640.20 198.56 h2.70 M822.50 198.56 h-2.70 M640.20 181.91 h2.70 M822.50 181.91 h-2.70 M640.20 165.25 h5.40 M822.50 165.25 h-5.40 M640.20 148.59 h2.70 M822.50 148.59 h-2.70 M640.20 131.94 h2.70 M822.50 131.94 h-2.70 M640.20 115.28 h2.70 M822.50 115.28 h-2.70 M640.20 98.62 h5.40 M822.50 98.62 h-5.40 M640.20 81.97 h2.70 M822.50 81.97 h-2.70 M640.20 65.31 h2.70 M822.50 65.31 h-2.70 M640.20 48.66 h2.70 M822.50 48.66 h-2.70" stroke="#000" stroke-width="0.75" fill="none"/>
<rect x="640.20" y="31.50" width="182.30" height="267.00" fill="none" stroke="#000" stroke-width="0.8"/>
<text x="641.50" y="315.8" font-size="12" text-anchor="middle">0</text>
<text x="677.96" y="315.8" font-size="12" text-anchor="middle">1</text>
<text x="714.42" y="315.8" font-size="12" text-anchor="middle">2</text>
<text x="750.88" y="315.8" font-size="12" text-anchor="middle">3</text>
<text x="787.34" y="315.8" font-size="12" text-anchor="middle">4</text>
<text x="823.80" y="315.8" font-size="12" text-anchor="middle">5</text>
<text x="731.35" y="16.6" font-size="12" text-anchor="middle">v = +1 (GKBA)</text>
<text x="724.05" y="334.5" font-size="12">lk<tspan font-size="9.6" dy="2.5" dx="0.5">F</tspan></text>
<text x="35.2" y="302.50" font-size="12" text-anchor="end">0</text>
<text x="35.2" y="235.88" font-size="12" text-anchor="end">1</text>
<text x="35.2" y="169.25" font-size="12" text-anchor="end">2</text>
<text x="35.2" y="102.62" font-size="12" text-anchor="end">3</text>
<text x="35.2" y="36.00" font-size="12" text-anchor="end">4</text>
<g transform="translate(14.6 0) rotate(-90)"><text x="-199.7" y="0" font-size="12" xml:space="preserve">Re <tspan font-style="italic">σ</tspan><tspan dx="8.6">[e</tspan><tspan font-size="9.6" dy="-5">2</tspan><tspan dy="5"> / h]</tspan></text></g>
<text x="173.6" y="215.2" font-size="12">N<tspan font-size="9.6" dy="2.5">d</tspan><tspan dy="-2.5"> = N</tspan><tspan font-size="9.6" dy="2.5">c</tspan></text>
<text x="177.2" y="232.20" font-size="12" text-anchor="end">2</text>
<path d="M183.2 228.10 H209.7" stroke="#ff0000" stroke-width="1.50" fill="none"/>
<text x="177.2" y="245.00" font-size="12" text-anchor="end">3</text>
<path d="M183.2 240.90 H209.7" stroke="#ffa500" stroke-width="1.50" fill="none"/>
<text x="177.2" y="257.80" font-size="12" text-anchor="end">4</text>
<path d="M183.2 253.70 H209.7" stroke="#006400" stroke-width="1.50" fill="none"/>
<text x="177.2" y="270.60" font-size="12" text-anchor="end">6</text>
<path d="M183.2 266.50 H209.7" stroke="#0000ee" stroke-width="1.50" fill="none"/>
<text x="177.2" y="283.40" font-size="12" text-anchor="end">8</text>
<path d="M183.2 279.30 H209.7" stroke="#9400d3" stroke-width="1.50" fill="none"/>
</svg></body></html>
